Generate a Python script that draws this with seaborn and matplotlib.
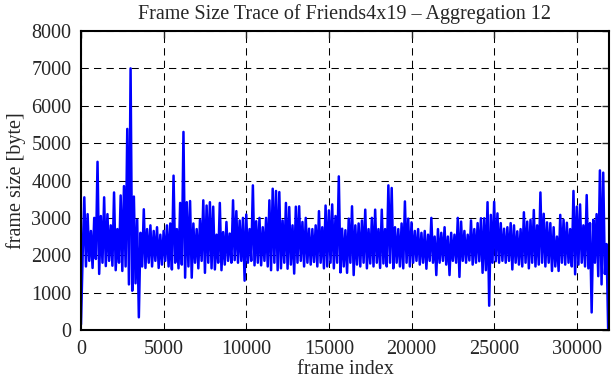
import numpy as np
import pandas as pd
import matplotlib
matplotlib.use("Agg")
import matplotlib.pyplot as plt
import seaborn as sns

sns.set_style("white")
plt.rcParams["font.family"] = ["Liberation Serif", "DejaVu Serif"]

# Frame size trace: per 200-frame bin the high and low value
upper = [150, 3550, 3100, 2650, 3000, 4500, 3050, 3550, 3100, 2800,
         3680, 2700, 3600, 3850, 5380, 7000, 3570, 2950, 2600, 3230,
         2700, 2800, 2650, 2750, 2550, 2650, 2800, 2850, 4130, 2700,
         3400, 5300, 3420, 3450, 2850, 2700, 2950, 3470, 3330, 3420,
         3300, 2550, 3400, 2620, 2890, 2580, 3470, 3180, 2930, 3000,
         3090, 2700, 3870, 2910, 3000, 2750, 3000, 3470, 3780, 3720,
         3690, 2930, 3400, 3290, 2800, 3300, 3310, 2890, 3000, 2710,
         2700, 2800, 3180, 2750, 3330, 3200, 3360, 3050, 4110, 2710,
         2670, 2980, 3310, 2800, 2850, 2930, 3220, 2700, 3000, 3220,
         2700, 3220, 2700, 3870, 3800, 2750, 2700, 2850, 3440, 2980,
         2880, 2650, 2700, 2600, 2650, 2550, 3000, 2500, 2700, 2600,
         2750, 2500, 2600, 2550, 3000, 2900, 2650, 2550, 2930, 2700,
         2860, 2990, 2990, 3420, 3080, 3430, 3120, 2860, 2710, 2750,
         2860, 2800, 2640, 2700, 3150, 2900, 2950, 3210, 2800, 3680,
         3110, 2880, 2860, 2750, 2500, 3080, 2950, 2870, 2700, 3720,
         3300, 3360, 2800, 3610, 2860, 2950, 3100, 4270, 4210, 2300]

lower = [2000, 1700, 1850, 1660, 1900, 1500, 1800, 1710, 1850, 1720,
         1600, 1800, 1580, 1700, 1220, 1050, 1250, 340, 1700, 1660,
         1800, 1700, 1850, 1660, 1750, 1850, 1700, 1620, 1800, 1650,
         1750, 1400, 1700, 1400, 1800, 1650, 1850, 1530, 1800, 1650,
         1620, 1800, 1600, 1750, 1850, 1800, 1870, 1800, 1850, 1320,
         1800, 1850, 1730, 1800, 1730, 1850, 1700, 1600, 1800, 1600,
         1650, 1800, 1640, 1750, 1510, 1800, 1850, 1700, 1800, 1750,
         1820, 1700, 1800, 1650, 1700, 1800, 1650, 1800, 1540, 1700,
         1530, 1800, 1470, 1750, 1700, 1800, 1650, 1780, 1700, 1800,
         1660, 1780, 1700, 1800, 1650, 1800, 1700, 1650, 1800, 1700,
         1800, 1850, 1750, 1800, 1640, 1850, 1800, 1470, 1800, 1850,
         1750, 1470, 1850, 1800, 1420, 1850, 1800, 1860, 1750, 1800,
         1840, 1530, 1600, 650, 1800, 1840, 1800, 1850, 1800, 1850,
         1620, 1800, 1750, 1700, 1800, 1650, 1800, 1700, 1750, 1800,
         1700, 1800, 1580, 1700, 1580, 1800, 1750, 1800, 1700, 1490,
         1750, 1800, 1700, 1650, 470, 1800, 1440, 1220, 1500, 0]

sizes = np.column_stack([upper, lower]).ravel()
frames = np.arange(len(sizes)) * 100
df = pd.DataFrame({"frame": frames, "size": sizes})

fig = plt.figure(figsize=(6.11, 3.80), dpi=100)
ax = fig.add_axes([81 / 611, 1 - 330 / 380, 528 / 611, 299 / 380])

sns.lineplot(data=df, x="frame", y="size", color="#0000ff", lw=1.8, sort=False, ax=ax)

ax.set_xlim(0, 31950)
ax.set_ylim(0, 8000)
ax.set_xticks(range(0, 30001, 5000))
ax.set_yticks(range(0, 8001, 1000))
ax.set_axisbelow(True)
ax.grid(True, color="black", lw=0.75, linestyle=(0, (7, 5)))
ax.tick_params(direction="in", length=5, width=1, top=True, right=True, labelsize=14.5, pad=7)
for s in ax.spines.values():
    s.set_linewidth(1.5)
    s.set_color("black")

ax.set_title("Frame Size Trace of Friends4x19 \u2013 Aggregation 12", fontsize=14.5, pad=9)
ax.set_xlabel("frame index", fontsize=14.5, labelpad=1)
ax.set_ylabel("frame size [byte]", fontsize=14.5, labelpad=4)

fig.savefig("out.png", dpi=100)
